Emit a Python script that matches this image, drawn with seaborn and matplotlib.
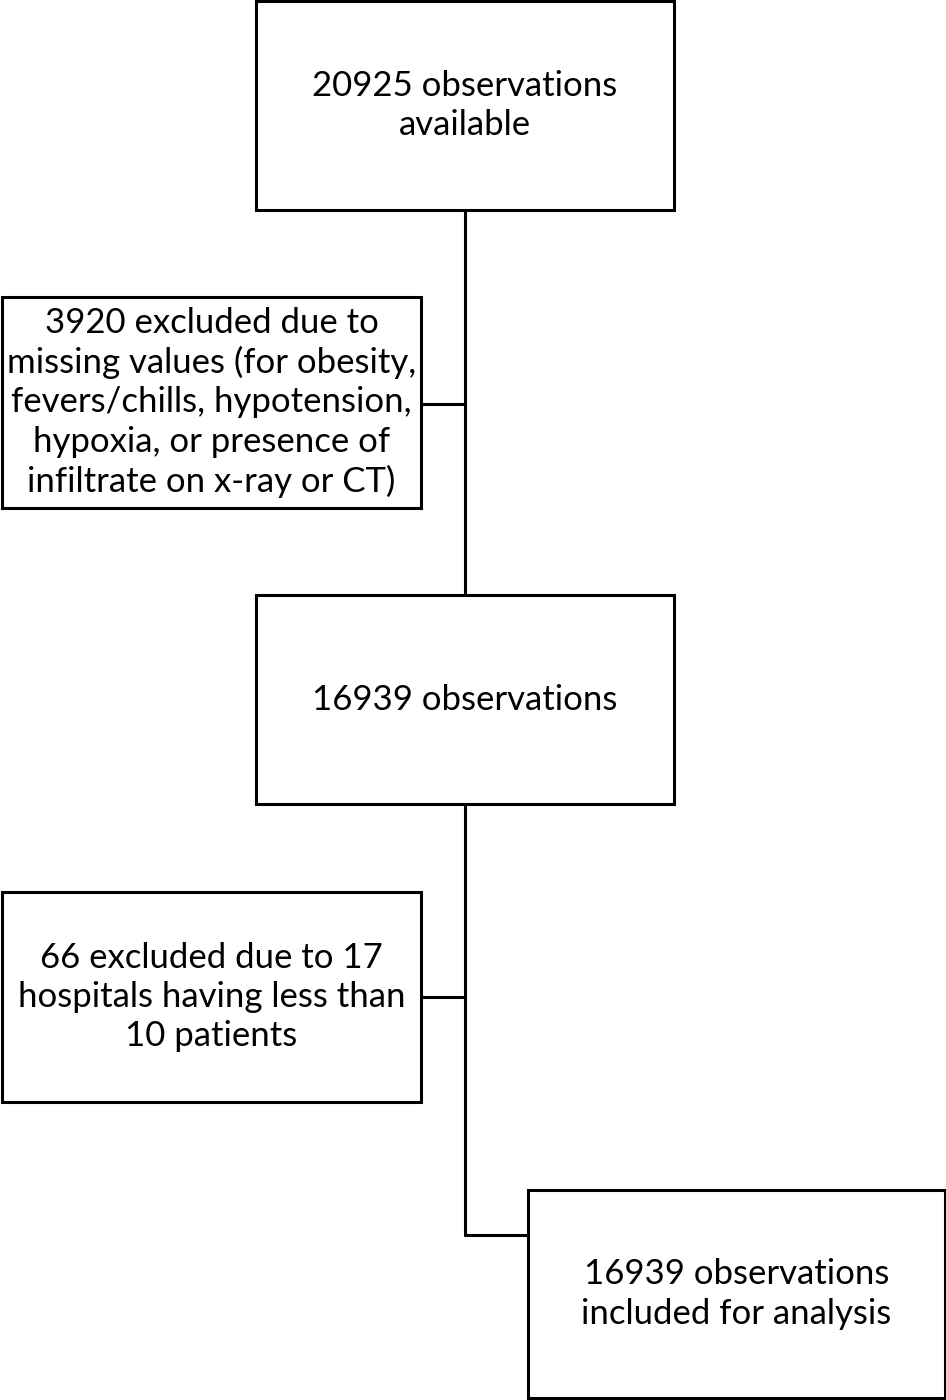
import matplotlib
matplotlib.use("Agg")
import matplotlib.pyplot as plt
import seaborn as sns
from matplotlib.patches import Rectangle

sns.set_theme(style="white")
plt.rcParams['font.family'] = ['Lato', 'DejaVu Sans']

# Box texts
box_labels = [
    "20925 observations\navailable",
    "3920 excluded due to\nmissing values (for obesity,\nfevers/chills, hypotension,\nhypoxia, or presence of\ninfiltrate on x-ray or CT)",
    "16939 observations",
    "66 excluded due to 17\nhospitals having less than\n10 patients",
    "16939 observations\nincluded for analysis",
]
# Box geometry in pixel units (x0, y0, x1, y1), y downward
box_x0 = [256, 2, 256, 2, 528]
box_y0 = [1, 297, 595, 892, 1190]
box_x1 = [674, 421, 674, 421, 945]
box_y1 = [210, 508, 804, 1102, 1398]

W, H = 946, 1400
fig = plt.figure(figsize=(W / 100, H / 100), dpi=100)
ax = fig.add_axes([0, 0, 1, 1])
ax.set_xlim(0, W)
ax.set_ylim(H, 0)
ax.axis("off")

lw = 2.2
for lab, x0, y0, x1, y1 in zip(box_labels, box_x0, box_y0, box_x1, box_y1):
    ax.add_patch(Rectangle((x0, y0), x1 - x0, y1 - y0, fill=False,
                           edgecolor="black", linewidth=lw))
    ax.text((x0 + x1) / 2, (y0 + y1) / 2, lab, ha="center", va="center",
            fontsize=25, color="black", linespacing=1.27)

spine_x = 465
# main vertical connectors
ax.plot([spine_x, spine_x], [box_y1[0], box_y0[2]], color="black", lw=lw)
ax.plot([spine_x, spine_x], [box_y1[2], 1235], color="black", lw=lw)
ax.plot([spine_x, box_x0[4]], [1235, 1235], color="black", lw=lw)
# side connectors
ax.plot([box_x1[1], spine_x], [404, 404], color="black", lw=lw)
ax.plot([box_x1[3], spine_x], [997, 997], color="black", lw=lw)

fig.savefig("out.png", dpi=100, facecolor="white")
